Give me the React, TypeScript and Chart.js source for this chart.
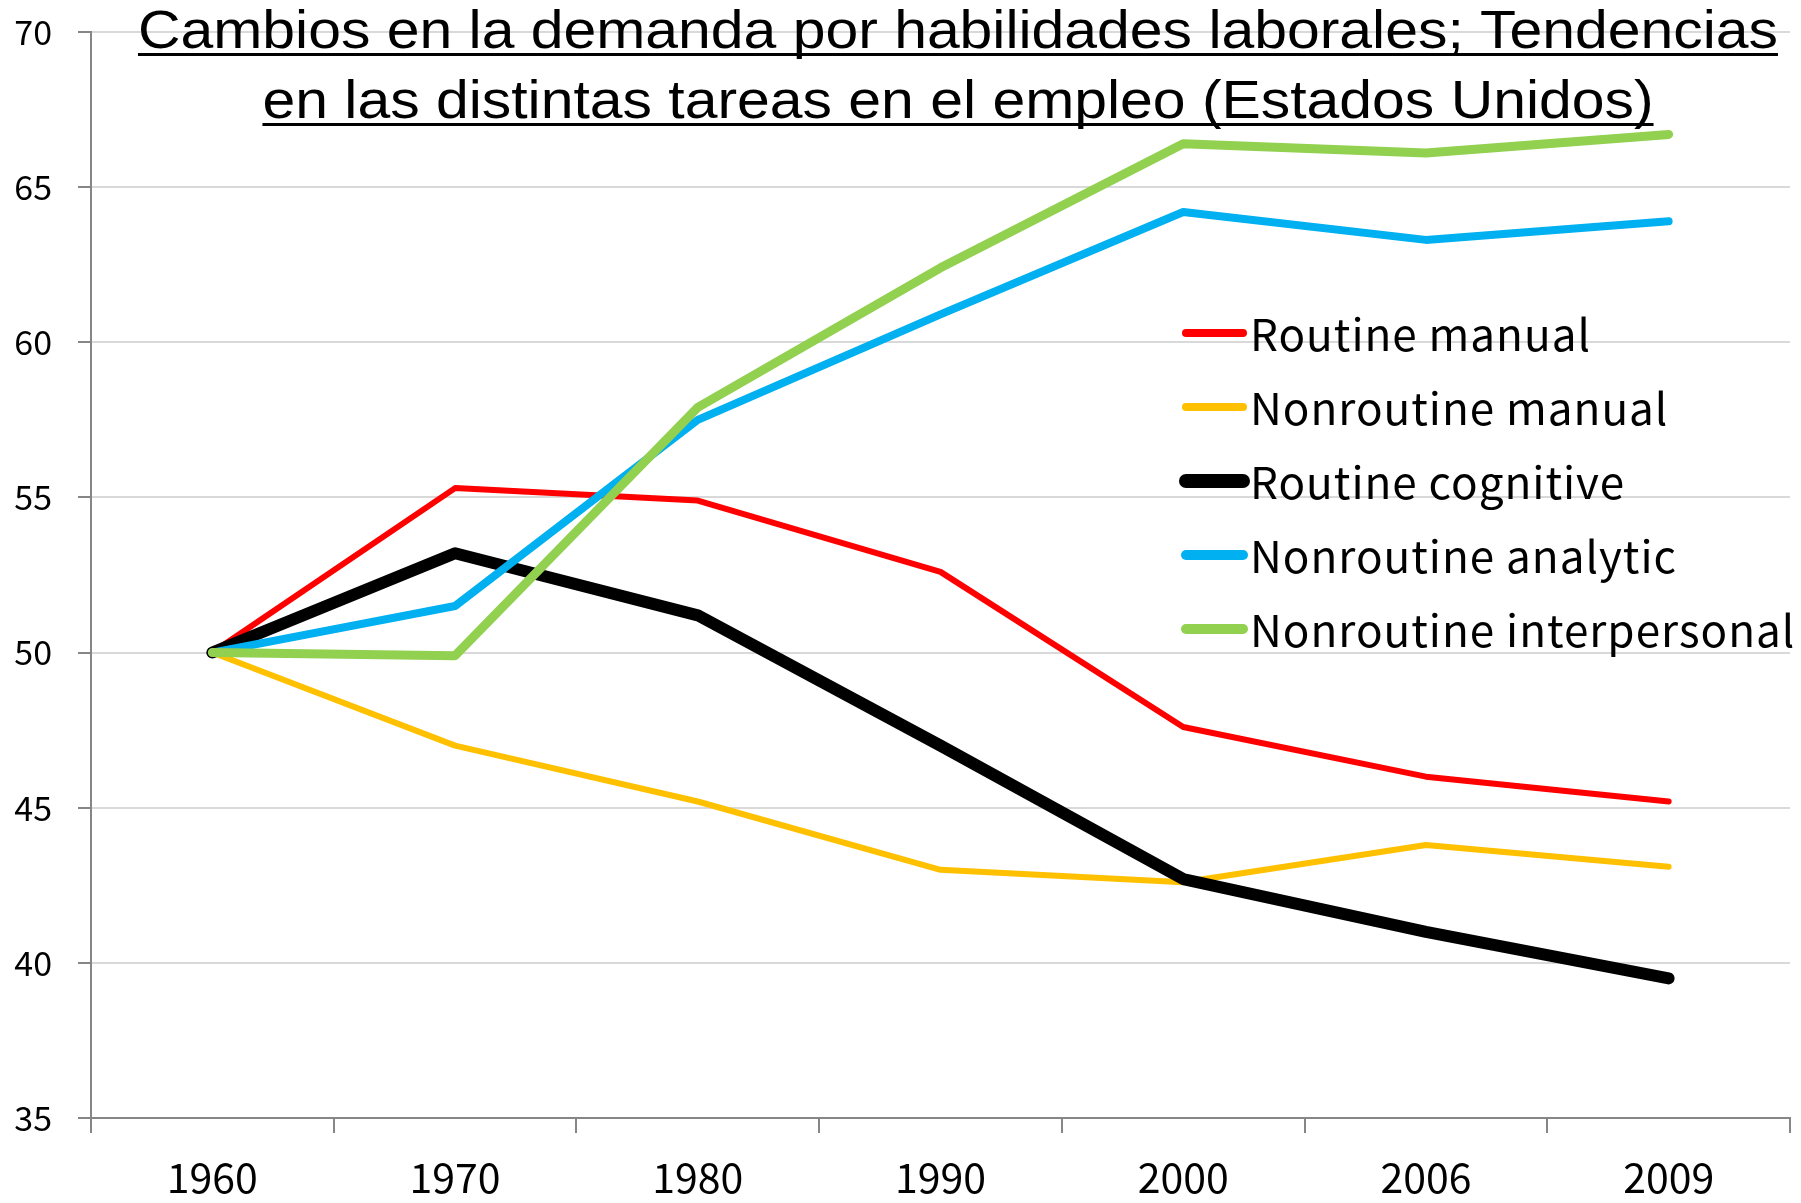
import React, { useEffect, useRef } from "react";
import { Chart, registerables } from "chart.js";

Chart.register(...registerables);

// ---- data ----
const years = ["1960", "1970", "1980", "1990", "2000", "2006", "2009"];
const routineManual = [50, 55.3, 54.9, 52.6, 47.6, 46.0, 45.2];
const nonroutineManual = [50, 47.0, 45.2, 43.0, 42.6, 43.8, 43.1];
const routineCognitive = [50, 53.2, 51.2, 47.0, 42.7, 41.0, 39.5];
const nonroutineAnalytic = [50, 51.5, 57.5, 60.9, 64.2, 63.3, 63.9];
const nonroutineInterpersonal = [50, 49.9, 57.9, 62.4, 66.4, 66.1, 66.7];

const seriesNames = [
  "Routine manual",
  "Nonroutine manual",
  "Routine cognitive",
  "Nonroutine analytic",
  "Nonroutine interpersonal",
];
const seriesValues = [
  routineManual,
  nonroutineManual,
  routineCognitive,
  nonroutineAnalytic,
  nonroutineInterpersonal,
];
const seriesColors = ["#FF0000", "#FFC000", "#000000", "#00B0F0", "#92D050"];
const seriesWidths = [6, 6, 12, 8, 9];
const legendWidths = [8, 8, 14, 10, 10];

const titleLines = [
  "Cambios en la demanda por habilidades laborales; Tendencias",
  "en las distintas tareas en el empleo (Estados Unidos)",
];

const Y_MIN = 35;
const Y_MAX = 70;
const Y_STEP = 5;

const W = 1801;
const H = 1203;
const LABEL_FONT = "'Noto Sans CJK KR', 'Noto Sans', sans-serif";

const titlePlugin = {
  id: "underlinedTitle",
  afterDraw(chart: any) {
    const ctx = chart.ctx as CanvasRenderingContext2D;
    const size = 54;
    ctx.save();
    ctx.font = `${size}px 'Liberation Sans', Arial, sans-serif`;
    ctx.fillStyle = "#000";
    ctx.textBaseline = "alphabetic";
    const w0 = ctx.measureText(titleLines[0]).width;
    const sx = 1640 / w0;
    const cx = 958;
    const baselines = [48, 118];
    titleLines.forEach((line, i) => {
      const w = ctx.measureText(line).width * sx;
      const x0 = cx - w / 2;
      ctx.save();
      ctx.translate(x0, baselines[i]);
      ctx.scale(sx, 1);
      ctx.textAlign = "left";
      ctx.fillText(line, 0, 0);
      ctx.restore();
      ctx.fillRect(x0, baselines[i] + 5, w, 3);
    });
    ctx.restore();
  },
};

const legendPlugin = {
  id: "insideLegend",
  afterDraw(chart: any) {
    const ctx = chart.ctx as CanvasRenderingContext2D;
    ctx.save();
    ctx.font = `44px ${LABEL_FONT}`;
    (ctx as any).letterSpacing = "1px";
    ctx.textBaseline = "middle";
    ctx.textAlign = "left";
    const x1 = 1186;
    const x2 = 1243;
    const y0 = 333;
    const dy = 74;
    chart.data.datasets.forEach((ds: any, i: number) => {
      const y = y0 + i * dy;
      ctx.strokeStyle = ds.borderColor;
      ctx.lineWidth = legendWidths[i];
      ctx.lineCap = "round";
      ctx.beginPath();
      ctx.moveTo(x1, y);
      ctx.lineTo(x2, y);
      ctx.stroke();
      ctx.fillStyle = "#000";
      ctx.fillText(ds.label, 1250, y + 1);
    });
    ctx.restore();
  },
};

export default function App() {
  const ref = useRef<HTMLCanvasElement | null>(null);

  useEffect(() => {
    if (!ref.current) return;
    const chart = new Chart(ref.current, {
      type: "line",
      data: {
        labels: years,
        datasets: seriesNames.map((name, i) => ({
          label: name,
          data: seriesValues[i],
          borderColor: seriesColors[i],
          backgroundColor: seriesColors[i],
          borderWidth: seriesWidths[i],
          pointRadius: 0,
          tension: 0,
          borderJoinStyle: "round" as const,
          borderCapStyle: "round" as const,
          order: seriesNames.length - i,
        })),
      },
      options: {
        animation: false,
        responsive: false,
        devicePixelRatio: 1,
        layout: { padding: { top: 32, right: 11, left: 0, bottom: 0 } },
        plugins: {
          legend: { display: false },
          title: { display: false },
          tooltip: { enabled: false },
        },
        scales: {
          x: {
            type: "category",
            offset: true,
            grid: {
              offset: true,
              drawOnChartArea: false,
              drawTicks: true,
              tickLength: 15,
              color: "#868686",
              lineWidth: 2,
            },
            border: { color: "#868686", width: 2 },
            ticks: {
              color: "#000",
              padding: 20,
              font: { family: LABEL_FONT, size: 41 },
              maxRotation: 0,
            },
            afterFit: (s: any) => {
              s.height = 85;
              s.paddingLeft = 0;
              s.paddingRight = 0;
            },
          },
          y: {
            min: Y_MIN,
            max: Y_MAX,
            ticks: {
              stepSize: Y_STEP,
              color: "#000",
              padding: 26,
              font: { family: LABEL_FONT, size: 34 },
            },
            grid: {
              color: "#d9d9d9",
              lineWidth: 2,
              tickLength: 13,
              tickColor: "#868686",
            },
            border: { color: "#868686", width: 2 },
            afterFit: (s: any) => {
              s.width = 91;
              s.paddingTop = 0;
              s.paddingBottom = 0;
            },
          },
        },
      },
      plugins: [titlePlugin, legendPlugin],
    });
    return () => chart.destroy();
  }, []);

  return (
    <div style={{ position: "fixed", left: 0, top: 0, width: W, height: H, background: "#fff" }}>
      <canvas ref={ref} width={W} height={H} style={{ display: "block" }} />
    </div>
  );
}
